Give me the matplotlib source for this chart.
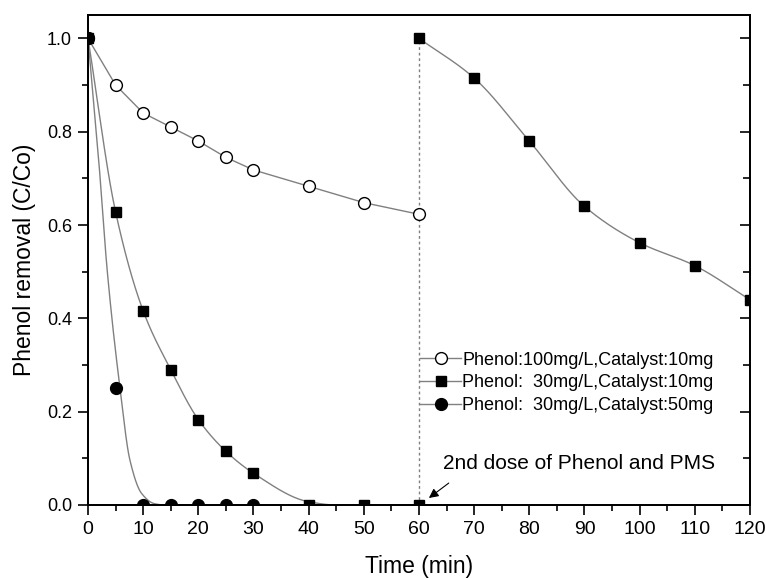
import numpy as np
import matplotlib
matplotlib.use("Agg")
from matplotlib import pyplot as plt
from matplotlib.ticker import MultipleLocator, FormatStrFormatter

plt.rcParams['font.family'] = ['Liberation Sans', 'DejaVu Sans']

# measured points
t_a = [0, 5, 10, 15, 20, 25, 30, 40, 50, 60]
c_a = [1.0, 0.90, 0.84, 0.81, 0.78, 0.745, 0.718, 0.683, 0.648, 0.623]

t_b = [0, 5, 10, 15, 20, 25, 30, 40, 50, 60, 60, 70, 80, 90, 100, 110, 120]
c_b = [1.0, 0.628, 0.416, 0.29, 0.183, 0.115, 0.068, 0.0, 0.0, 0.0,
       1.0, 0.915, 0.78, 0.64, 0.562, 0.513, 0.44]

t_c = [0, 5, 10, 15, 20, 25, 30]
c_c = [1.0, 0.25, 0.0, 0.0, 0.0, 0.0, 0.0]

# fitted curves
fit_b1_t = [0, 5, 10, 15, 20, 25, 30, 40, 45, 60]
fit_b1_c = [1.0, 0.628, 0.416, 0.29, 0.183, 0.115, 0.068, 0.007, 0.0, 0.0]
fit_b2_t = [60, 70, 80, 90, 100, 110, 120]
fit_b2_c = [1.0, 0.915, 0.78, 0.64, 0.562, 0.513, 0.44]
fit_c_t = [0, 2, 3.5, 5.8, 7.6, 9.7, 12, 13.8, 30]
fit_c_c = [1.0, 0.73, 0.50, 0.25, 0.096, 0.025, 0.003, 0.0, 0.0]

labels = ['Phenol:100mg/L,Catalyst:10mg',
          'Phenol:  30mg/L,Catalyst:10mg',
          'Phenol:  30mg/L,Catalyst:50mg']


def pchip(x, y, xs):
    """monotone cubic through the given points"""
    x = np.asarray(x, float)
    y = np.asarray(y, float)
    h = np.diff(x)
    d = np.diff(y) / h
    m = np.zeros_like(y)
    for i in range(1, len(x) - 1):
        if d[i - 1] * d[i] > 0:
            w1 = 2 * h[i] + h[i - 1]
            w2 = h[i] + 2 * h[i - 1]
            m[i] = (w1 + w2) / (w1 / d[i - 1] + w2 / d[i])
    m[0] = d[0]
    m[-1] = d[-1]
    idx = np.clip(np.searchsorted(x, xs) - 1, 0, len(x) - 2)
    s = (xs - x[idx]) / h[idx]
    h00 = 2 * s**3 - 3 * s**2 + 1
    h10 = s**3 - 2 * s**2 + s
    h01 = -2 * s**3 + 3 * s**2
    h11 = s**3 - s**2
    return (h00 * y[idx] + h10 * h[idx] * m[idx]
            + h01 * y[idx + 1] + h11 * h[idx] * m[idx + 1])


fig = plt.figure(figsize=(7.66, 5.78), dpi=100)
ax = fig.add_axes([0.1149, 0.1263, 0.979 - 0.1149, 0.974 - 0.1263])

gray = '#808080'

# curves
ax.plot(t_a, c_a, color=gray, lw=1.0, zorder=2)
for ft, fc in [(fit_b1_t, fit_b1_c), (fit_b2_t, fit_b2_c), (fit_c_t, fit_c_c)]:
    xs = np.linspace(ft[0], ft[-1], 400)
    ax.plot(xs, pchip(ft, fc, xs), color=gray, lw=1.0, zorder=2)

ax.plot([60, 60], [0, 1], color=gray, lw=1.0, ls=(0, (2, 2)), zorder=1)

# markers
ax.plot(t_a, c_a, 'o', mfc='white', mec='black', mew=1.0, ms=8.5, ls='none', zorder=3)
ax.plot(t_b, c_b, 's', color='black', ms=7.5, ls='none', zorder=3)
ax.plot(t_c, c_c, 'o', color='black', ms=8.5, ls='none', zorder=3)

# legend handles
ax.plot([], [], '-o', color=gray, lw=1.0, mfc='white', mec='black', ms=8.5, label=labels[0])
ax.plot([], [], '-s', color=gray, lw=1.0, mfc='black', mec='black', ms=7.5, label=labels[1])
ax.plot([], [], '-o', color=gray, lw=1.0, mfc='black', mec='black', ms=8.5, label=labels[2])
ax.legend(loc='upper left', bbox_to_anchor=(0.5015, 0.313), frameon=False,
          fontsize=13, handlelength=2.3, handletextpad=0.05,
          labelspacing=0.32, borderpad=0, borderaxespad=0)

ax.annotate('', xy=(61.8, 0.015), xytext=(65.4, 0.047),
            arrowprops=dict(arrowstyle='-|>', color='black', lw=0.8,
                            mutation_scale=14, shrinkA=0, shrinkB=0))
ax.text(64.3, 0.09, '2nd dose of Phenol and PMS', fontsize=15, va='center', ha='left')

ax.set_xlim(0, 120)
ax.set_ylim(0, 1.05)
ax.xaxis.set_major_locator(MultipleLocator(10))
ax.xaxis.set_minor_locator(MultipleLocator(5))
ax.yaxis.set_major_locator(MultipleLocator(0.2))
ax.yaxis.set_minor_locator(MultipleLocator(0.1))
ax.yaxis.set_major_formatter(FormatStrFormatter('%.1f'))
ax.tick_params(which='both', direction='out', top=False, right=False, width=1.2)
ax.tick_params(which='major', length=7.5, pad=4)
ax.tick_params(which='minor', length=4)
ax.tick_params(axis='x', labelsize=14)
ax.tick_params(axis='y', labelsize=13)

ax2 = ax.twinx()
ax2.set_ylim(0, 1.05)
ax2.yaxis.set_major_locator(MultipleLocator(0.2))
ax2.yaxis.set_minor_locator(MultipleLocator(0.1))
ax2.tick_params(which='both', direction='in', labelright=False, width=1.2)
ax2.tick_params(which='major', length=7.5)
ax2.tick_params(which='minor', length=5)

for a in (ax, ax2):
    for sp in a.spines.values():
        sp.set_linewidth(1.3)

ax.set_xlabel('Time (min)', fontsize=16.5, labelpad=12)
ax.set_ylabel('Phenol removal (C/Co)', fontsize=16.5, labelpad=8)

fig.savefig('out.png', dpi=100)
